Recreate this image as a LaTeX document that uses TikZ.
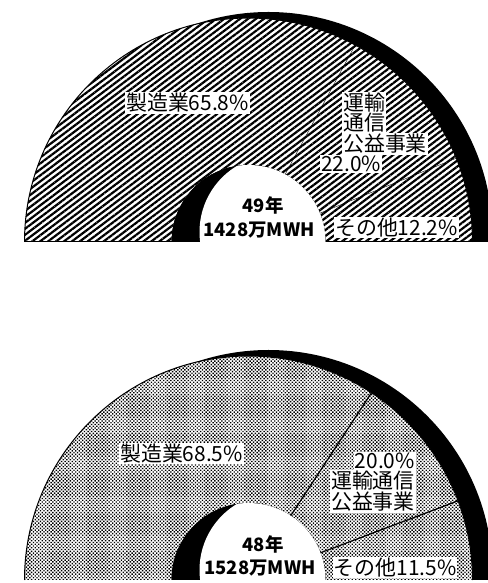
\documentclass[tikz,border=0pt]{standalone}
\usepackage{fontspec}
\newfontfamily\jpfont{Noto Sans CJK JP}
\usetikzlibrary{patterns.meta}

\begin{document}
\begin{tikzpicture}[x=1bp,y=1bp,
  lab/.style={fill=white,inner sep=1bp,font=\jpfont\fontsize{21}{21.5}\selectfont},
  ctr/.style={inner sep=0pt,font=\jpfont\bfseries\fontsize{18.5}{19}\selectfont},
  hatch49/.style={preaction={fill=white},pattern={Lines[angle=37,distance=4.8pt,line width=2.2pt]}},
  dots48/.style={preaction={fill=white},pattern={Dots[angle=45,distance=2.5pt,radius=1pt]}},
  rim/.style={line width=1bp}]
\useasboundingbox (0,0) rectangle (488,583);

% 49年 chart
\fill (44.5,347) arc[start angle=180,end angle=0,radius=224] -- (492.5,341) -- (44.5,341) -- cycle;
\fill[hatch49] (24.5,341) arc[start angle=180,end angle=0,radius=224] -- (325.5,341) arc[start angle=0,end angle=180,radius=77] -- cycle;
\draw[rim] (24.5,341) arc[start angle=180,end angle=0,radius=224];
\draw[rim] (24.5,341) -- (171.5,341) (325.5,341) -- (472.5,341);
\fill (171.5,341) arc[start angle=180,end angle=0,radius=77] -- cycle;
\begin{scope}
\clip (171.5,341) arc[start angle=180,end angle=0,radius=77] -- cycle;
\fill[white] (276.5,351) circle[radius=77];
\end{scope}
\draw[thin] (248.5,341) ++(61.56:77) -- ++(61.56:147);
\draw[thin] (248.5,341) ++(21.96:77) -- ++(21.96:147);

\node[lab] (mfg49) at (187.5,480) {製造業65.8\%};
\node[lab,anchor=west] (trans49a) at (342,480.5) {運輸};
\node[lab,anchor=west] (trans49b) at (342,460) {通信};
\node[lab,anchor=west] (trans49c) at (342,439) {公益事業};
\node[lab] (transpct49) at (351,419) {22.0\%};
\node[lab] (other49) at (396.5,355.5) {その他12.2\%};
\node[ctr] (year49) at (263,378) {49年};
\node[ctr] (total49) at (259,353) {1428万MWH};

% 48年 chart
\fill (44.5,9) arc[start angle=180,end angle=0,radius=224] -- (492.5,3) -- (44.5,3) -- cycle;
\fill[dots48] (24.5,3) arc[start angle=180,end angle=0,radius=224] -- (325.5,3) arc[start angle=0,end angle=180,radius=77] -- cycle;
\draw[rim] (24.5,3) arc[start angle=180,end angle=0,radius=224];
\fill (171.5,3) arc[start angle=180,end angle=0,radius=77] -- cycle;
\begin{scope}
\clip (171.5,3) arc[start angle=180,end angle=0,radius=77] -- cycle;
\fill[white] (276.5,13) circle[radius=77];
\end{scope}
\draw[line width=1.2bp] (248.5,3) ++(56.7:77) -- ++(56.7:147);
\draw[line width=1.2bp] (248.5,3) ++(20.7:77) -- ++(20.7:147);

\node[lab] (mfg48) at (181.5,129.5) {製造業68.5\%};
\node[lab,anchor=east] (transpct48) at (416,122) {20.0\%};
\node[lab,anchor=east] (trans48a) at (416,102) {運輸通信};
\node[lab,anchor=east] (trans48b) at (416,81) {公益事業};
\node[lab] (other48) at (395,15.5) {その他11.5\%};
\node[ctr] (year48) at (263,39) {48年};
\node[ctr] (total48) at (260,15) {1528万MWH};
\end{tikzpicture}
\end{document}
